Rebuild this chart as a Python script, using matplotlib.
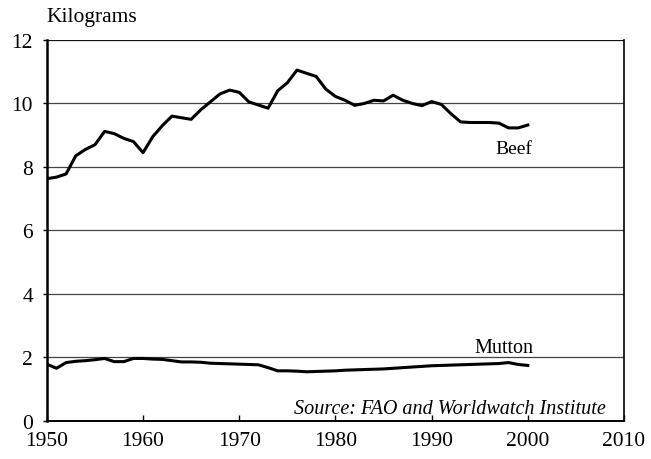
import matplotlib
matplotlib.use("Agg")
import matplotlib.pyplot as plt

years = list(range(1950, 2001))
beef = [7.63, 7.68, 7.78, 8.35, 8.55, 8.7, 9.12, 9.05, 8.9, 8.8,
        8.45, 8.95, 9.3, 9.6, 9.55, 9.5, 9.8, 10.05, 10.3, 10.42,
        10.35, 10.05, 9.95, 9.85, 10.4, 10.65, 11.05, 10.95, 10.85, 10.45,
        10.22, 10.1, 9.94, 10.0, 10.1, 10.08, 10.26, 10.1, 10.0, 9.93,
        10.06, 9.97, 9.68, 9.42, 9.4, 9.4, 9.4, 9.38, 9.23, 9.23, 9.32]
mutton = [1.79, 1.66, 1.84, 1.88, 1.9, 1.93, 1.97, 1.87, 1.87, 1.97,
          1.97, 1.95, 1.94, 1.9, 1.86, 1.86, 1.85, 1.82, 1.81, 1.8,
          1.79, 1.78, 1.77, 1.68, 1.58, 1.58, 1.57, 1.55, 1.56, 1.57,
          1.58, 1.6, 1.61, 1.62, 1.63, 1.64, 1.66, 1.68, 1.7, 1.72,
          1.74, 1.75, 1.76, 1.77, 1.78, 1.79, 1.8, 1.81, 1.84, 1.78, 1.75]
x_ticks = [1950, 1960, 1970, 1980, 1990, 2000, 2010]
y_ticks = [0, 2, 4, 6, 8, 10, 12]

plt.rcParams['font.family'] = ['Liberation Serif', 'DejaVu Serif']

fig = plt.figure(figsize=(6.51, 4.60), dpi=100)
ax = fig.add_axes([0.072, 0.0826, 0.8865, 0.8284])

for yv in y_ticks[1:]:
    ax.axhline(yv, color='#444444' if yv != 12 else '#111111', lw=0.9, zorder=1)

ax.plot(years, beef, color='black', lw=2.2, zorder=3)
ax.plot(years, mutton, color='black', lw=2.2, zorder=3)

ax.set_xlim(1950, 2010)
ax.set_ylim(0, 12)
ax.set_xticks(x_ticks)
ax.set_yticks(y_ticks)
ax.tick_params(axis='x', direction='in', length=4, width=1, labelsize=15.5, pad=7)
ax.tick_params(axis='y', direction='out', length=3, width=1, labelsize=15.5, pad=7)

ax.spines['top'].set_visible(False)
ax.spines['left'].set_linewidth(1.8)
ax.spines['right'].set_linewidth(1.2)
ax.spines['bottom'].set_linewidth(1.4)

ax.text(1996.6, 8.58, 'Beef', fontsize=14, ha='left', va='center')
ax.text(1994.5, 2.33, 'Mutton', fontsize=14.5, ha='left', va='center')
ax.text(2008.1, 0.38, 'Source: FAO and Worldwatch Institute', fontsize=14.5,
        style='italic', ha='right', va='center')

fig.text(0.072, 0.962, 'Kilograms', fontsize=15.5, ha='left', va='center')

fig.savefig('out.png', dpi=100)
